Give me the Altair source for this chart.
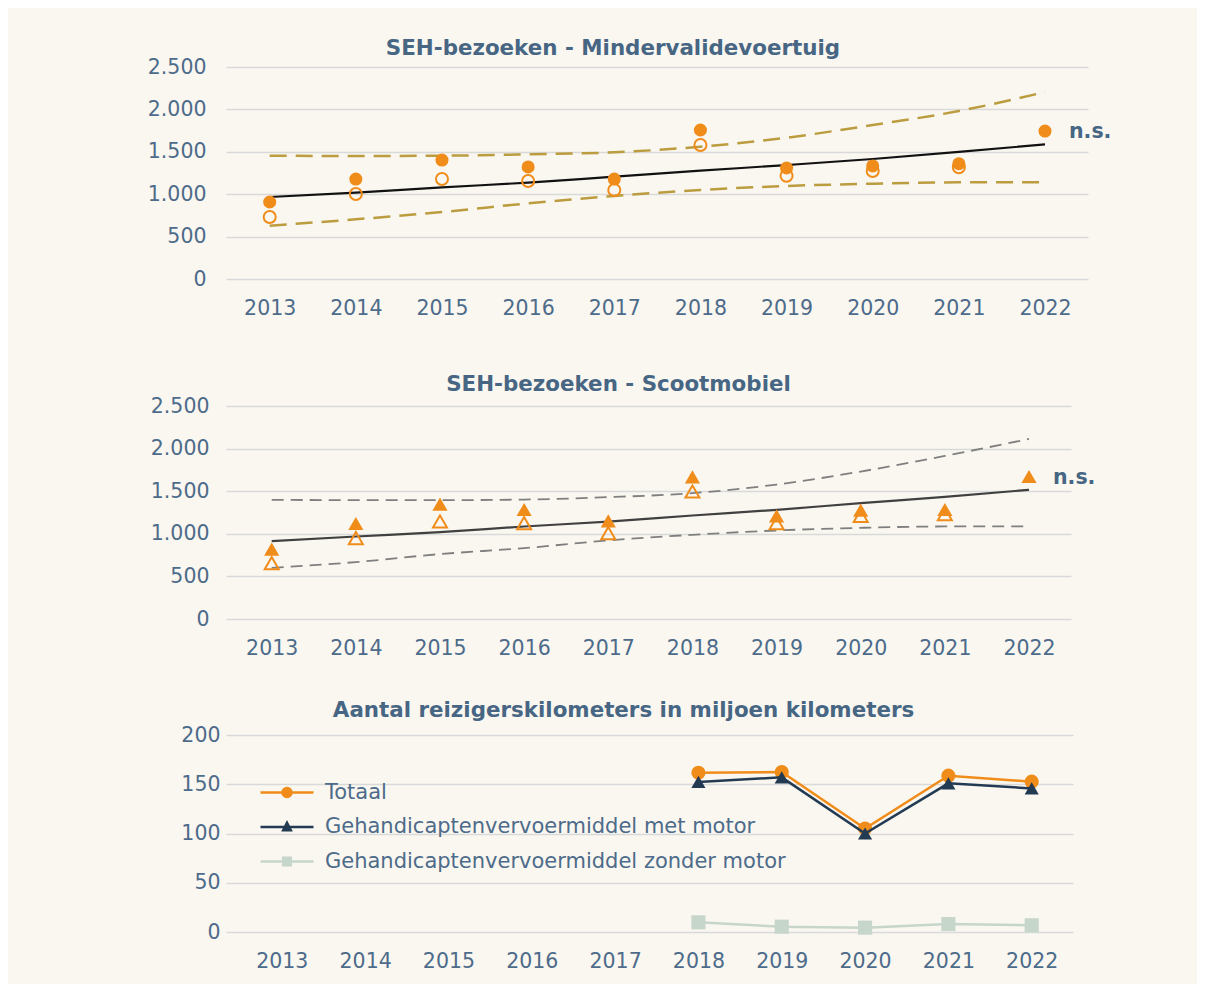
import math
import altair as alt
import pandas as pd

# ---------------- data ----------------
years = ["2013", "2014", "2015", "2016", "2017", "2018", "2019", "2020", "2021", "2022"]

# Panel 1: SEH-bezoeken - Mindervalidevoertuig
mv_filled = [908, 1179, 1403, 1321, 1179, 1757, 1309, 1333, 1360, 1745]
mv_open = [731, 1002, 1179, 1156, 1050, 1580, 1218, 1274, 1317, None]
mv_trend = [967, 1018, 1081, 1136, 1207, 1277, 1344, 1415, 1498, 1588]
mv_upper = [1454, 1450, 1454, 1470, 1494, 1560, 1666, 1816, 1981, 2205]
mv_lower = [629, 704, 790, 892, 979, 1050, 1097, 1124, 1140, 1140]

# Panel 2: SEH-bezoeken - Scootmobiel
sc_filled = [820, 1121, 1348, 1285, 1152, 1668, 1211, 1278, 1285, 1672]
sc_open = [656, 949, 1144, 1125, 1008, 1496, 1125, 1211, 1231, None]
sc_trend = [914, 968, 1020, 1086, 1144, 1215, 1281, 1360, 1434, 1516]
sc_upper = [1399, 1395, 1395, 1402, 1430, 1477, 1578, 1731, 1914, 2113]
sc_lower = [601, 668, 762, 832, 922, 988, 1039, 1070, 1086, 1086]

# Panel 3: Aantal reizigerskilometers (miljoen km)
km_years = ["2018", "2019", "2020", "2021", "2022"]
km_totaal = [161.7, 162.4, 105.1, 158.7, 152.6]
km_met = [152.4, 157.0, 100.0, 150.9, 145.8]
km_zonder = [9.8, 5.4, 4.4, 8.1, 6.8]

series_names = ["Totaal",
                "Gehandicaptenvervoermiddel met motor",
                "Gehandicaptenvervoermiddel zonder motor"]
series_colors = ["#F08C1A", "#233A53", "#C6D6CB"]
series_shapes = ["circle", "triangle-up", "square"]

titles = ["SEH-bezoeken - Mindervalidevoertuig",
          "SEH-bezoeken - Scootmobiel",
          "Aantal reizigerskilometers in miljoen kilometers"]
ns_text = "n.s."

# ---------------- style ----------------
FONT = "DejaVu Sans"
BG = "#FAF7F0"
TXT = "#4D6B8A"
TITLE_C = "#476684"
ORANGE = "#F08C1A"
LBL = 20.5


# legend symbols: horizontal line + marker (stroked only, concentric outlines
# make the marker look solid); unit = 10 px
def poly(pts):
    return "M" + "L".join("%.3f,%.3f" % p for p in pts) + "Z"


def circle_path(r, n=16):
    return poly([(r * math.cos(2 * math.pi * k / n), r * math.sin(2 * math.pi * k / n))
                 for k in range(n)])


def tri_path(k):
    cy = 0.08
    pts = [(0, -0.42), (0.38, 0.33), (-0.38, 0.33)]
    return poly([(x * k, cy + (y - cy) * k) for x, y in pts])


def sq_path(h):
    return poly([(-h, -h), (h, -h), (h, h), (-h, h)])


LINE = "M-2.65,0H2.65"
legend_paths = [
    LINE + circle_path(0.45) + circle_path(0.25) + circle_path(0.06, 8),
    LINE + tri_path(1.0) + tri_path(0.55) + tri_path(0.15),
    LINE + sq_path(0.38) + sq_path(0.2) + sq_path(0.04),
]

label_expr = "replace(format(datum.value, ','), ',', '.')"


def x_enc(width, left, right):
    # point scale: first/last year at `left` / `width-right` px from the plot edges
    step = (width - left - right) / (len(years) - 1)
    pad = (left + right) / (2 * step)
    return alt.X("jaar:O",
                 scale=alt.Scale(type="point", domain=years, padding=pad,
                                 align=left / (left + right)),
                 axis=alt.Axis(title=None, labelAngle=0, labelPadding=19))


def seh_panel(filled, opened, trend, upper, lower, title, shape, size,
              trend_color, band_color, dash, band_width,
              width, height, xl, xr, yrange, ylabpad, tdx, tdy):
    df = pd.DataFrame({"jaar": years, "gevuld": filled, "open": opened,
                       "trend": trend, "boven": upper, "onder": lower})
    yscale = alt.Scale(domain=[0, 2500], range=yrange, nice=False)
    yaxis = alt.Axis(title=None, values=[0, 500, 1000, 1500, 2000, 2500],
                     labelExpr=label_expr, labelPadding=ylabpad)
    xe = x_enc(width, xl, xr)
    base = alt.Chart(df).encode(x=xe)

    def yy(field):
        return alt.Y(field + ":Q", scale=yscale, axis=yaxis)

    up = base.mark_line(color=band_color, strokeDash=dash, strokeWidth=band_width,
                        interpolate="monotone").encode(y=yy("boven"))
    lo = base.mark_line(color=band_color, strokeDash=dash, strokeWidth=band_width,
                        interpolate="monotone").encode(y=yy("onder"))
    tr = base.mark_line(color=trend_color, strokeWidth=2.2,
                        interpolate="monotone").encode(y=yy("trend"))
    op = base.mark_point(shape=shape, filled=False, color=ORANGE, size=size * 0.85,
                         strokeWidth=2, opacity=1).encode(y=yy("open"))
    fi = base.mark_point(shape=shape, filled=True, color=ORANGE, size=size,
                         opacity=1).encode(y=yy("gevuld"))
    ns_df = pd.DataFrame({"jaar": [years[-1]], "waarde": [filled[-1]], "tekst": [ns_text]})
    ns = alt.Chart(ns_df).mark_text(align="left", baseline="middle", dx=24, dy=1,
                                    font=FONT, fontSize=20.5, fontWeight="bold",
                                    color=TITLE_C).encode(
        x=xe, y=yy("waarde"), text="tekst:N")
    return alt.layer(up, lo, tr, op, fi, ns).properties(
        width=width, height=height,
        title=alt.TitleParams(title, dx=tdx, dy=tdy, offset=0, baseline="alphabetic"))


p1 = seh_panel(mv_filled, mv_open, mv_trend, mv_upper, mv_lower, titles[0], "circle", 170,
               "#111111", "#BB9C3E", [17, 9], 2.5,
               862, 212, 43.7, 43, [212, 0], 20, -44, 19)
p2 = seh_panel(sc_filled, sc_open, sc_trend, sc_upper, sc_lower, titles[1], "triangle-up", 230,
               "#404040", "#7F7F7F", [12, 7], 1.8,
               845, 224, 45.7, 42, [224, 11], 17, -30, 17.5)

# Panel 3
rows = []
for name, vals in zip(series_names, [km_totaal, km_met, km_zonder]):
    for j, v in zip(km_years, vals):
        rows.append({"jaar": j, "reeks": name, "waarde": v})
df3 = pd.DataFrame(rows)

W3 = 847
x3 = x_enc(W3, 55.8, 41.3)
y3 = alt.Y("waarde:Q", scale=alt.Scale(domain=[0, 200], nice=False),
           axis=alt.Axis(title=None, values=[0, 50, 100, 150, 200], labelPadding=6))

layers3 = []
for name, col, shp in zip(series_names, series_colors, series_shapes):
    sub = alt.Chart(df3).transform_filter(alt.datum.reeks == name)
    layers3.append(sub.mark_line(strokeWidth=2.5, color=col).encode(x=x3, y=y3))
    layers3.append(sub.mark_point(filled=True, size=200, opacity=1, shape=shp,
                                  color=col).encode(x=x3, y=y3))

# legend position is measured from the top-left of the first panel
legend = alt.Legend(
    title=None, orient="none", legendX=49.5, legendY=714, padding=0,
    symbolSize=400, symbolStrokeWidth=2.5, symbolOpacity=1,
    labelOffset=26.5, rowPadding=12.5, labelLimit=700,
    labelFont=FONT, labelFontSize=21, labelColor=TXT)

# invisible layer that only carries the legend (line + marker symbols)
leg3 = alt.Chart(df3).mark_point(filled=False, strokeWidth=2.5, opacity=0).encode(
    x=x3, y=y3,
    color=alt.Color("reeks:N", scale=alt.Scale(domain=series_names, range=series_colors),
                    legend=legend),
    shape=alt.Shape("reeks:N", scale=alt.Scale(domain=series_names, range=legend_paths),
                    legend=legend))

p3 = alt.layer(*layers3, leg3).properties(
    width=W3, height=197,
    title=alt.TitleParams(titles[2], dx=-26, dy=13, offset=0, baseline="alphabetic"))

chart = alt.vconcat(p1, p2, p3, spacing=116, bounds="flush").properties(
    padding={"left": 139, "top": 29, "right": 85, "bottom": 12}
).configure(background=BG).configure_view(stroke=None).configure_axis(
    labelFont=FONT, labelFontSize=LBL, labelColor=TXT,
    domain=False, ticks=False, tickSize=0,
    gridColor="#D9D9D9", gridWidth=1.5,
).configure_axisX(grid=False).configure_title(
    font=FONT, fontSize=21.4, fontWeight="bold", color=TITLE_C, anchor="middle")

chart.save("out.html", embed_options={"renderer": "svg", "actions": False})
